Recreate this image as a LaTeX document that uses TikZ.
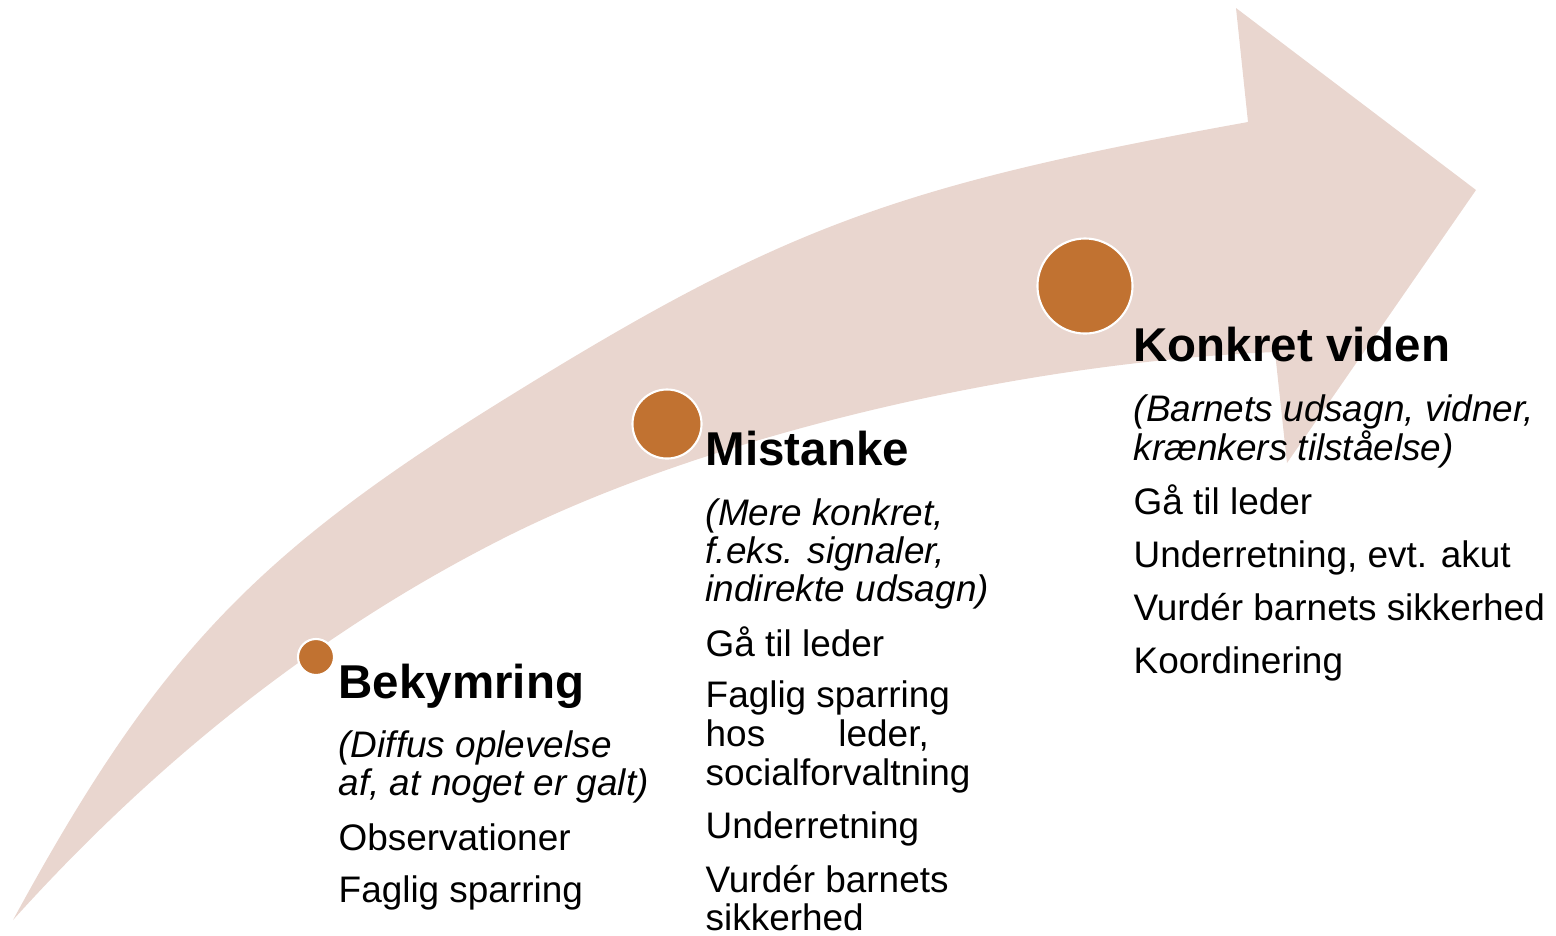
\documentclass[tikz,border=0pt]{standalone}
\usepackage{fontspec}
\setmainfont{Liberation Sans}

\definecolor{arrowpink}{RGB}{233,214,207}
\definecolor{dotbrown}{RGB}{193,114,49}

\tikzset{
  stagedot/.style={circle, fill=dotbrown, draw=white, line width=0.6pt, inner sep=0pt},
  stagehead/.style={anchor=base west, inner sep=0pt, font=\bfseries\fontsize{13.5}{16}\selectfont},
  stagenote/.style={anchor=base west, inner sep=0pt, font=\itshape\fontsize{10.5}{12}\selectfont},
  stageitem/.style={anchor=base west, inner sep=0pt, font=\fontsize{10.5}{12}\selectfont},
}

\begin{document}
\begin{tikzpicture}[x=0.01cm, y=-0.01cm]
\useasboundingbox (0,0) rectangle (1556,935);

% Curved arrow
\fill[arrowpink] (13,920) .. controls (155,659) and (252,556) .. (500,402)
  .. controls (780,228) and (893,186) .. (1248,122)
  -- (1236,8) -- (1476,190) -- (1287,463) -- (1275,352)
  .. controls (1013,363) and (700,438) .. (500,540)
  .. controls (321,631) and (159,758) .. (13,920) -- cycle;

% Stage dots
\node[stagedot, minimum size=0.36cm] (dot1) at (316,657) {};
\node[stagedot, minimum size=0.69cm] (dot2) at (667,424) {};
\node[stagedot, minimum size=0.95cm] (dot3) at (1085,286) {};

% Bekymring
\node[stagehead] (bek) at (338,698) {Bekymring};
\node[stagenote] (bek-n1) at (338,757) {(Diffus oplevelse};
\node[stagenote] (bek-n2) at (338,795) {af, at noget er galt)};
\node[stageitem] (bek-i1) at (338,850) {Observationer};
\node[stageitem] (bek-i2) at (338,902) {Faglig sparring};

% Mistanke
\node[stagehead] (mis) at (705,465) {Mistanke};
\foreach \y/\t [count=\i] in {525/{(Mere konkret,}, 563/{f.eks. signaler,}, 601/{indirekte udsagn)}} {
  \node[stagenote] (mis-n\i) at (705,\y) {\t};
}
\foreach \y/\t [count=\i] in {656/{Gå til leder}, 707/{Faglig sparring},
    746/{\makebox[2.23cm][s]{hos leder,}}, 785/{socialforvaltning},
    838/{Underretning}, 892/{Vurdér barnets}, 930/{sikkerhed}} {
  \node[stageitem] (mis-i\i) at (705,\y) {\t};
}

% Konkret viden
\node[stagehead] (kon) at (1133,361) {Konkret viden};
\node[stagenote] (kon-n1) at (1133,421) {(Barnets udsagn, vidner,};
\node[stagenote] (kon-n2) at (1133,460) {krænkers tilståelse)};
\foreach \y/\t [count=\i] in {514/{Gå til leder}, 567/{Underretning, evt. akut},
    620/{Vurdér barnets sikkerhed}, 673/{Koordinering}} {
  \node[stageitem] (kon-i\i) at (1133,\y) {\t};
}

\end{tikzpicture}
\end{document}
